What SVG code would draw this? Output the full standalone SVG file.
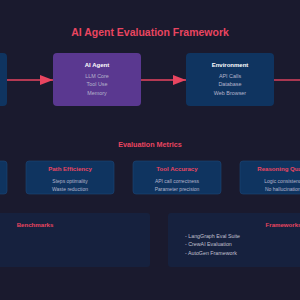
<svg xmlns="http://www.w3.org/2000/svg" width="300" height="300" viewBox="0 0 300 300">
<defs>
<style>
text{font-family:"Liberation Sans",Arial,sans-serif}
.title{fill:#e94560;font-weight:bold;text-anchor:middle}
.node{fill:#0f3460}
.agent{fill:#5a3890}
.metric{fill:#0f3460;stroke:#1d4677;stroke-width:0.6}
.panel{fill:#16213e}
.nt{fill:#ffffff;font-size:6px;font-weight:bold;text-anchor:middle}
.ns{fill:#b4b4cc;font-size:5.4px;text-anchor:middle}
.mt{fill:#e94560;font-size:6.1px;font-weight:bold;text-anchor:middle}
.ms{fill:#b4b4cc;font-size:5px;text-anchor:middle}
.li{fill:#c0c0d0;font-size:5.3px}
.conn{stroke:#e94560;stroke-width:1.4;fill:none}
</style>
<marker id="ah" viewBox="0 0 13 10" refX="13" refY="5" markerWidth="13" markerHeight="10" markerUnits="userSpaceOnUse" orient="auto">
<path d="M0,0 L13,5 L0,10 Z" fill="#e94560"/>
</marker>
</defs>
<rect width="300" height="300" fill="#1a1a2e"/>
<text class="title" x="150" y="35.8" font-size="10.5">AI Agent Evaluation Framework</text>

<g id="input">
<rect class="node" x="-80" y="53" width="87" height="53" rx="4"/>
</g>
<g id="agent">
<rect class="agent" x="53" y="53" width="88" height="53" rx="4"/>
<text class="nt" x="97" y="66.8">AI Agent</text>
<text class="ns" x="97" y="77.6">LLM Core</text>
<text class="ns" x="97" y="86.3">Tool Use</text>
<text class="ns" x="97" y="95.2">Memory</text>
</g>
<g id="environment">
<rect class="node" x="186" y="53" width="88" height="53" rx="4"/>
<text class="nt" x="230" y="66.8">Environment</text>
<text class="ns" x="230" y="77.6">API Calls</text>
<text class="ns" x="230" y="86.3">Database</text>
<text class="ns" x="230" y="95.2">Web Browser</text>
</g>

<g id="connectors">
<line class="conn" x1="7" y1="80" x2="53" y2="80" marker-end="url(#ah)"/>
<line class="conn" x1="141" y1="80" x2="186" y2="80" marker-end="url(#ah)"/>
<line class="conn" x1="274" y1="80" x2="302" y2="80"/>
</g>

<text class="title" x="150" y="146.5" font-size="7.2">Evaluation Metrics</text>

<g id="metric-left">
<rect class="metric" x="-81" y="161" width="88" height="33" rx="3"/>
</g>
<g id="metric-path">
<rect class="metric" x="26" y="161" width="88" height="33" rx="3"/>
<text class="mt" x="70" y="171.2">Path Efficiency</text>
<text class="ms" x="70" y="182.8">Steps optimality</text>
<text class="ms" x="70" y="191">Waste reduction</text>
</g>
<g id="metric-tool">
<rect class="metric" x="133" y="161" width="88" height="33" rx="3"/>
<text class="mt" x="177" y="171.2">Tool Accuracy</text>
<text class="ms" x="177" y="182.8">API call correctness</text>
<text class="ms" x="177" y="191">Parameter precision</text>
</g>
<g id="metric-reasoning">
<rect class="metric" x="240" y="161" width="88" height="33" rx="3"/>
<text class="mt" x="284" y="171.2">Reasoning Quality</text>
<text class="ms" x="284" y="182.8">Logic consistency</text>
<text class="ms" x="284" y="191">No hallucinations</text>
</g>

<g id="benchmarks">
<rect class="panel" x="-80" y="213" width="230" height="54" rx="3"/>
<text class="mt" x="35" y="226.5" font-size="6.2">Benchmarks</text>
</g>
<g id="frameworks">
<rect class="panel" x="168" y="213" width="231" height="54" rx="3"/>
<text class="mt" x="283.5" y="226.5" font-size="6.2">Frameworks</text>
<text class="li" x="185" y="237.6">- LangGraph Eval Suite</text>
<text class="li" x="185" y="246.3">- CrewAI Evaluation</text>
<text class="li" x="185" y="255.2">- AutoGen Framework</text>
</g>
</svg>
